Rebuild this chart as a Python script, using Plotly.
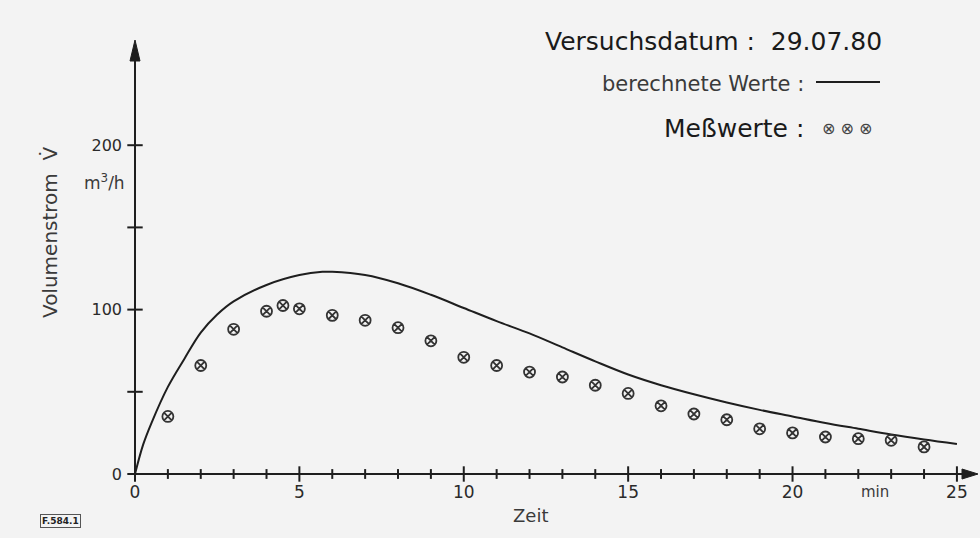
import plotly.graph_objects as go

# Calculated curve (berechnete Werte)
calc_t = [0, 0.25, 0.5, 1, 1.5, 2, 2.5, 3, 4, 5, 5.7, 6, 7, 8, 9, 10, 11, 12, 13, 14, 15,
          16, 17, 18, 19, 20, 21, 22, 23, 24, 25]
calc_v = [0, 18, 31, 53, 70, 86, 97, 105, 115, 121, 123, 123, 121, 116, 109, 101, 93, 85.5, 77,
          68.5, 60.5, 54, 48.5, 43.5, 39, 35, 31, 27.5, 24, 21, 18.3]

# Measured values (Meßwerte)
meas_t = [1, 2, 3, 4, 4.5, 5, 6, 7, 8, 9, 10, 11, 12, 13, 14, 15, 16, 17, 18, 19, 20, 21, 22, 23, 24]
meas_v = [35, 66, 88, 99, 102.5, 100.5, 96.5, 93.5, 89, 81, 71, 66, 62, 59, 54, 49, 41.5, 36.5,
          33, 27.5, 25, 22.5, 21.5, 20.5, 16.5]

# Axis ticks
x_minor_ticks = [i for i in range(1, 25) if i % 5 != 0]
x_major_ticks = [0, 5, 10, 15, 20, 25]
y_ticks = [0, 50, 100, 150, 200]
x_labels = ["0", "5", "10", "15", "20", "25"]
y_label_vals = [0, 100, 200]

INK = "#1e1e1e"
BG = "#f3f3f3"
FONT = "DejaVu Sans"

fig = go.Figure()

fig.add_trace(go.Scatter(
    x=calc_t, y=calc_v, mode="lines", line=dict(color=INK, width=2, shape="spline", smoothing=1.0),
    hoverinfo="skip", showlegend=False, cliponaxis=False))

fig.add_trace(go.Scatter(
    x=meas_t, y=meas_v, mode="markers",
    marker=dict(symbol="circle-x-open", size=11, color="#333333", line=dict(width=1.8, color="#333333")),
    showlegend=False))

# crossing tick marks
fig.add_trace(go.Scatter(
    x=x_minor_ticks, y=[0] * len(x_minor_ticks), mode="markers",
    marker=dict(symbol="line-ns", size=7, line=dict(width=2, color=INK)),
    hoverinfo="skip", showlegend=False, cliponaxis=False))
fig.add_trace(go.Scatter(
    x=x_major_ticks, y=[0] * len(x_major_ticks), mode="markers",
    marker=dict(symbol="line-ns", size=11, line=dict(width=2, color=INK)),
    hoverinfo="skip", showlegend=False, cliponaxis=False))
fig.add_trace(go.Scatter(
    x=[0] * len(y_ticks), y=y_ticks, mode="markers",
    marker=dict(symbol="line-ew", size=11, line=dict(width=2, color=INK)),
    hoverinfo="skip", showlegend=False, cliponaxis=False))

W, H = 980, 538
L, R, T, B = 135, 5, 40, 64
pw, ph = W - L - R, H - T - B

fig.update_layout(
    width=W, height=H,
    margin=dict(l=L, r=R, t=T, b=B),
    paper_bgcolor=BG, plot_bgcolor=BG,
    font=dict(family=FONT, color="#2a2a2a"),
    showlegend=False,
    xaxis=dict(range=[0, 25.55], showgrid=False, zeroline=False, showline=False,
               tickvals=x_major_ticks, ticktext=x_labels, ticks="",
               tickfont=dict(size=17, color="#2a2a2a"), ticklabelstandoff=6),
    yaxis=dict(range=[0, 264], showgrid=False, zeroline=False, showline=False,
               tickvals=y_label_vals, ticktext=["0", "100", "200"], ticks="",
               tickfont=dict(size=16, color="#2a2a2a"), ticklabelstandoff=12),
)


def px(xp):
    return (xp - L) / pw


def py(yp):
    return (H - B - yp) / ph


# axis lines with arrow heads (paper coordinates from pixel positions)
fig.add_shape(type="line", xref="paper", yref="paper", x0=px(135), y0=py(474), x1=px(965), y1=py(474),
              line=dict(color=INK, width=2))
fig.add_shape(type="line", xref="paper", yref="paper", x0=px(135), y0=py(474), x1=px(135), y1=py(55),
              line=dict(color=INK, width=2))
fig.add_shape(type="path", xref="paper", yref="paper", fillcolor=INK, line=dict(color=INK, width=1),
              path=f"M {px(978)} {py(474)} L {px(962)} {py(469)} L {px(962)} {py(479)} Z")
fig.add_shape(type="path", xref="paper", yref="paper", fillcolor=INK, line=dict(color=INK, width=1),
              path=f"M {px(135)} {py(40)} L {px(130)} {py(61)} L {px(140)} {py(61)} Z")


def label(text, x, y, size, color="#3a3a3a", anchor="center", **kw):
    fig.add_annotation(text=text, x=px(x), y=py(y), xref="paper", yref="paper", showarrow=False,
                       font=dict(size=size, color=color, family=FONT), xanchor=anchor,
                       yanchor="middle", **kw)


# axis titles and units
label("Volumenstrom  V\u0307", 50, 232, 20, textangle=-90)
label("m<sup>3</sup>/h", 104, 182, 17)
label("Zeit", 530, 515, 18)
label("min", 875, 492, 15)

# header / legend text
label("Versuchsdatum :  29.07.80", 884, 42, 25, color="#1a1a1a", anchor="right")
label("berechnete Werte :", 806, 84, 21, anchor="right")
label("Meßwerte :", 806, 128, 25, color="#1a1a1a", anchor="right")
label("⊗ ⊗ ⊗", 874, 129, 16, color="#444444", anchor="right")
label("<b>F.584.1</b>", 60, 521, 9, color="#222222", bordercolor="#555555", borderwidth=1,
      borderpad=1)

fig.add_shape(type="line", xref="paper", yref="paper",
              x0=px(816), x1=px(880), y0=py(82), y1=py(82),
              line=dict(color=INK, width=2))

fig.write_html("out.html", config={"displayModeBar": False},
               post_script="document.body.style.margin='0';document.body.style.background='#f3f3f3';"
                           "document.documentElement.style.overflow='hidden';")
